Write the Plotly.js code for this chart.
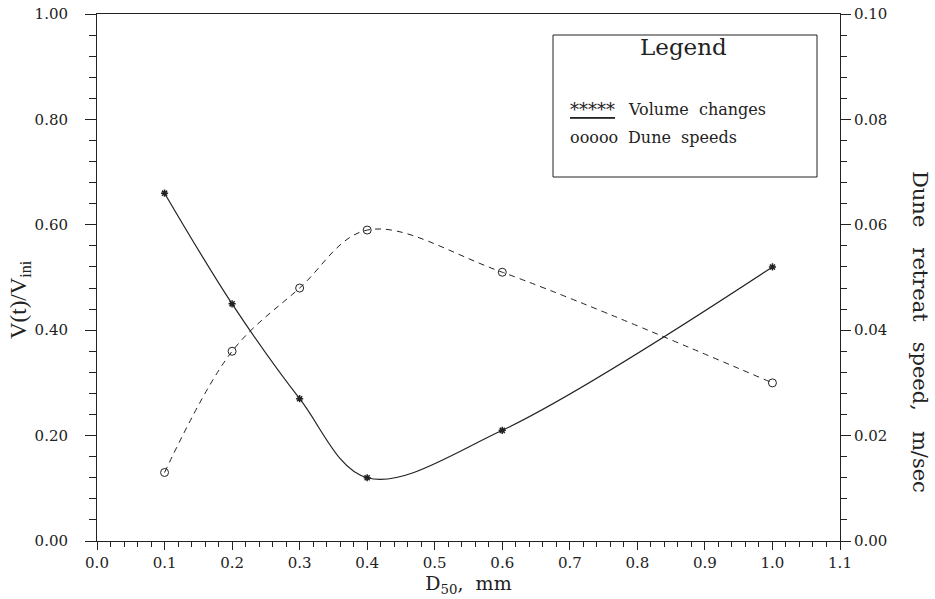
<!DOCTYPE html>
<html>
<head>
<meta charset="utf-8">
<script src="https://cdn.plot.ly/plotly-3.0.1.min.js"></script>
<style>html,body{margin:0;padding:0;background:#fff;}#chart{width:935px;height:599px;}</style>
</head>
<body>
<div id="chart"></div>
<script>
const grainSize = [0.1, 0.2, 0.3, 0.4, 0.6, 1.0];
const volumeChanges = [0.66, 0.45, 0.27, 0.12, 0.21, 0.52];
const duneSpeeds = [0.013, 0.036, 0.048, 0.059, 0.051, 0.030];
const xTickVals = [0.0, 0.1, 0.2, 0.3, 0.4, 0.5, 0.6, 0.7, 0.8, 0.9, 1.0, 1.1];
const yTickVals = [0.0, 0.2, 0.4, 0.6, 0.8, 1.0];
const y2TickVals = [0.0, 0.02, 0.04, 0.06, 0.08, 0.10];

const serif = "DejaVu Serif, Liberation Serif, serif";
const ink = "#222";
const px = (x) => (x - 97) / 743;
const py = (y) => (541 - y) / 527;

const traces = [
  {
    x: grainSize, y: volumeChanges, type: "scatter", mode: "lines+markers",
    name: "Volume changes",
    line: {color: ink, width: 1.2, shape: "spline", smoothing: 1},
    marker: {symbol: "asterisk-open", size: 6, color: ink, line: {color: ink, width: 1.5}},
    yaxis: "y", showlegend: false
  },
  {
    x: grainSize, y: duneSpeeds, type: "scatter", mode: "lines+markers",
    name: "Dune speeds",
    line: {color: ink, width: 1, dash: "6px,5px", shape: "spline", smoothing: 1},
    marker: {symbol: "circle-open", size: 8, color: ink, line: {color: ink, width: 1}},
    yaxis: "y2", showlegend: false
  }
];

const layout = {
  width: 935, height: 599,
  margin: {l: 97, r: 95, t: 14, b: 58},
  paper_bgcolor: "#fff", plot_bgcolor: "#fff",
  font: {family: serif, color: ink, size: 15},
  showlegend: false,
  xaxis: {
    range: [0, 1.1], tickvals: xTickVals, ticktext: xTickVals.map(v => v.toFixed(1)),
    ticks: "outside", ticklen: 8, tickwidth: 1, tickcolor: ink,
    minor: {dtick: 0.02, ticks: "outside", ticklen: 5, tickcolor: ink, showgrid: false},
    showline: true, linecolor: ink, linewidth: 1, mirror: true,
    showgrid: false, zeroline: false,
    tickfont: {family: serif, size: 15},
    title: {text: "D<sub>50</sub>,  mm", font: {family: serif, size: 19}, standoff: 2}
  },
  yaxis: {
    range: [0, 1.0], tickvals: yTickVals, ticktext: yTickVals.map(v => v.toFixed(2)),
    ticks: "outside", ticklen: 11, tickwidth: 1, tickcolor: ink,
    ticklabelstandoff: 14,
    minor: {dtick: 0.04, ticks: "outside", ticklen: 7, tickcolor: ink, showgrid: false},
    showline: true, linecolor: ink, linewidth: 1,
    showgrid: false, zeroline: false,
    tickfont: {family: serif, size: 15}
  },
  yaxis2: {
    range: [0, 0.10], tickvals: y2TickVals, ticktext: y2TickVals.map(v => v.toFixed(2)),
    overlaying: "y", side: "right",
    ticks: "outside", ticklen: 10, tickwidth: 1, tickcolor: ink,
    minor: {dtick: 0.004, ticks: "outside", ticklen: 6, tickcolor: ink, showgrid: false},
    showline: true, linecolor: ink, linewidth: 1,
    showgrid: false, zeroline: false,
    tickfont: {family: serif, size: 15}
  },
  shapes: [
    {type: "rect", xref: "paper", yref: "paper",
     x0: px(553), x1: px(817), y0: py(177), y1: py(35),
     line: {color: ink, width: 1}, fillcolor: "rgba(0,0,0,0)"}
  ],
  annotations: [
    {xref: "paper", yref: "paper", x: px(683), y: py(47), text: "Legend",
     showarrow: false, font: {family: serif, size: 23, color: ink}, xanchor: "center", yanchor: "middle"},
    {xref: "paper", yref: "paper", x: px(568), y: py(110),
     text: "<u>*****</u>",
     showarrow: false, font: {family: serif, size: 18, color: ink}, xanchor: "left", yanchor: "middle"},
    {xref: "paper", yref: "paper", x: px(626), y: py(110),
     text: "Volume  changes",
     showarrow: false, font: {family: serif, size: 16, color: ink}, xanchor: "left", yanchor: "middle"},
    {xref: "paper", yref: "paper", x: px(568), y: py(137),
     text: "ooooo",
     showarrow: false, font: {family: serif, size: 16, color: ink}, xanchor: "left", yanchor: "middle"},
    {xref: "paper", yref: "paper", x: px(626), y: py(137),
     text: "Dune  speeds",
     showarrow: false, font: {family: serif, size: 16, color: ink}, xanchor: "left", yanchor: "middle"},
    {xref: "paper", yref: "paper", x: px(20), y: py(300),
     text: "V(t)/V<sub>ini</sub>", textangle: -90,
     showarrow: false, font: {family: "Liberation Serif, serif", size: 23, color: ink}, xanchor: "center", yanchor: "middle"},
    {xref: "paper", yref: "paper", x: px(920), y: py(332),
     text: "Dune   retreat   speed,   m/sec", textangle: 90,
     showarrow: false, font: {family: serif, size: 21, color: ink}, xanchor: "center", yanchor: "middle"}
  ]
};

Plotly.newPlot("chart", traces, layout, {displayModeBar: false, staticPlot: true});
</script>
</body>
</html>
